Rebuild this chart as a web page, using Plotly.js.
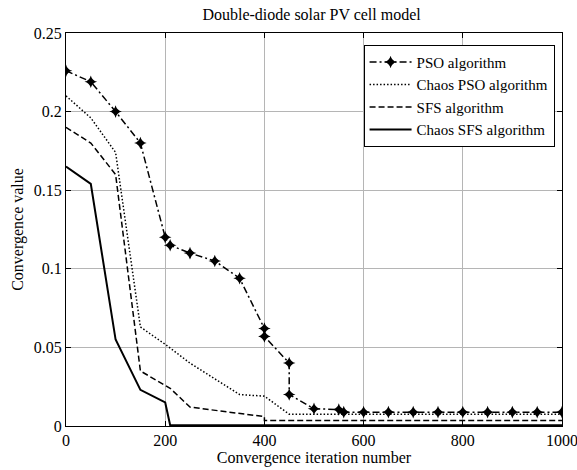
<!DOCTYPE html>
<html><head><meta charset="utf-8">
<script src="https://cdn.plot.ly/plotly-3.0.1.min.js"></script>
<style>html,body{margin:0;padding:0;background:#fff}</style>
</head><body><div id="chart" style="width:577px;height:470px"></div>
<script>
const seriesNames = ["PSO algorithm", "Chaos PSO algorithm", "SFS algorithm", "Chaos SFS algorithm"];
const psoX = [0, 50, 100, 150, 200, 210, 250, 300, 350, 400, 400, 450, 450, 500, 550, 560, 600, 650, 700, 750, 800, 850, 900, 950, 1000];
const psoY = [0.226, 0.219, 0.2, 0.18, 0.12, 0.115, 0.11, 0.105, 0.094, 0.062, 0.057, 0.04, 0.02, 0.011, 0.0105, 0.0088, 0.0088, 0.0088, 0.0088, 0.0088, 0.0088, 0.0088, 0.0088, 0.0088, 0.0088];
const cpsoX = [0, 50, 100, 150, 200, 250, 300, 350, 400, 450, 1000];
const cpsoY = [0.21, 0.196, 0.174, 0.063, 0.052, 0.04, 0.03, 0.02, 0.019, 0.0075, 0.0075];
const sfsX = [0, 50, 100, 150, 210, 250, 400, 400, 1000];
const sfsY = [0.19, 0.18, 0.16, 0.035, 0.024, 0.012, 0.006, 0.0035, 0.0035];
const csfsX = [0, 50, 100, 150, 200, 210, 1000];
const csfsY = [0.165, 0.154, 0.055, 0.023, 0.015, 0.0005, 0.0005];
const xTicks = [0, 200, 400, 600, 800, 1000];
const yTicks = [0, 0.05, 0.1, 0.15, 0.2, 0.25];
const yTickText = ["0", "0.05", "0.1", "0.15", "0.2", "0.25"];

const traces = [
  {x: psoX, y: psoY, name: seriesNames[0], mode: "lines+markers",
   line: {color: "#000", width: 1.5, dash: "7px,3px,2px,3px"},
   marker: {symbol: "star-diamond", size: 9, color: "#000"}},
  {x: cpsoX, y: cpsoY, name: seriesNames[1], mode: "lines",
   line: {color: "#000", width: 1.5, dash: "1.5px,2px"}},
  {x: sfsX, y: sfsY, name: seriesNames[2], mode: "lines",
   line: {color: "#000", width: 1.5, dash: "6px,3px"}},
  {x: csfsX, y: csfsY, name: seriesNames[3], mode: "lines",
   line: {color: "#000", width: 2, dash: "solid"}}
];
const fam = "'Liberation Serif', serif";
const f = (s) => ({family: fam, size: s, color: "#000"});
const layout = {
  width: 577, height: 470,
  margin: {l: 66, r: 15, t: 33, b: 44},
  paper_bgcolor: "#fff", plot_bgcolor: "#fff",
  font: f(16),
  showlegend: true,
  title: {text: "Double-diode solar PV cell model", font: f(16), x: 0.54, xanchor: "center", y: 0.97, yanchor: "middle"},
  xaxis: {range: [0, 1000], tickvals: xTicks, ticktext: xTicks.map(String),
    showgrid: true, gridcolor: "#b5b5b5", gridwidth: 1, zeroline: false,
    showline: true, linecolor: "#000", linewidth: 1, mirror: "ticks",
    ticks: "inside", ticklen: 5, tickcolor: "#000", ticklabeloverflow: "allow",
    tickfont: f(16),
    title: {text: "Convergence iteration number", font: f(16), standoff: 0}},
  yaxis: {range: [0, 0.25], tickvals: yTicks, ticktext: yTickText,
    showgrid: true, gridcolor: "#b5b5b5", gridwidth: 1, zeroline: false,
    showline: true, linecolor: "#000", linewidth: 1, mirror: "ticks",
    ticks: "inside", ticklen: 5, tickcolor: "#000",
    tickfont: f(16),
    title: {text: "Convergence value", font: f(16), standoff: 6}},
  legend: {x: 0.985, y: 0.97, xanchor: "right", yanchor: "top",
    bgcolor: "#fff", bordercolor: "#000", borderwidth: 1,
    font: f(15), tracegroupgap: 0, itemwidth: 42}
};
Plotly.newPlot("chart", traces, layout, {displayModeBar: false, staticPlot: true});
</script></body></html>
